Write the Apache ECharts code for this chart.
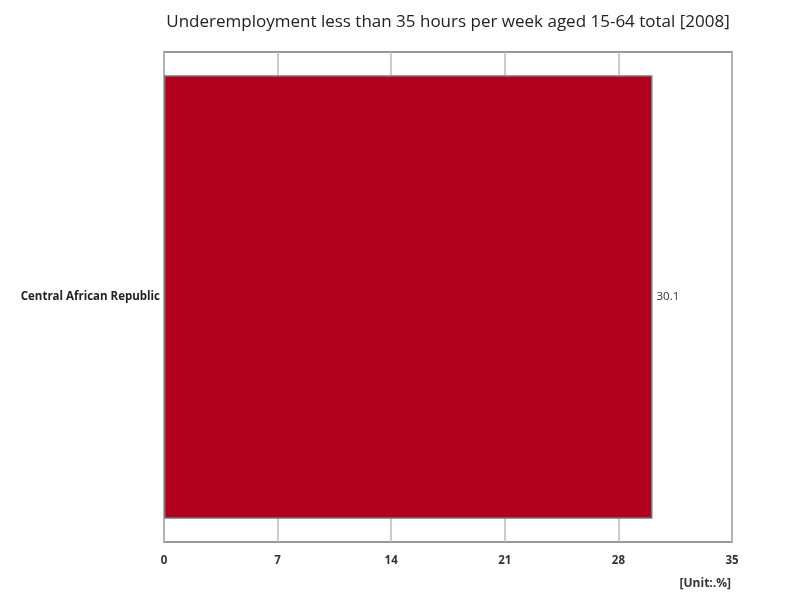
<!DOCTYPE html>
<html><head><meta charset="utf-8">
<script src="https://cdn.jsdelivr.net/npm/echarts@6/dist/echarts.min.js"></script>
<style>html,body{margin:0;padding:0;background:#fff}#c{width:800px;height:600px}</style>
</head><body><div id="c"></div>
<script>
const categories = ["Central African Republic"];
const values = [30.1];
const xTicks = [0, 7, 14, 21, 28, 35];
const titleText = "Underemployment less than 35 hours per week aged 15-64 total [2008]";
const unitText = "[Unit:.%]";

const chart = echarts.init(document.getElementById('c'));
chart.setOption({
  animation: false,
  graphic: [
    {type: 'text', x: 448, y: 14,
      style: {text: titleText, fontFamily: 'Open Sans', fontWeight: 'normal', fontSize: 17, fill: '#222', textAlign: 'center'}},
    {type: 'text', x: 731, y: 578,
      style: {text: unitText, fontFamily: 'Open Sans', fontWeight: 'bold', fontSize: 12, fill: '#333', textAlign: 'right'}}],
  grid: {left: 164, right: 68, top: 52, bottom: 58, show: true, borderColor: '#777', borderWidth: 1.5, containLabel: false},
  xAxis: {type: 'value', min: xTicks[0], max: xTicks[xTicks.length-1], interval: 7,
    axisLine: {show: false}, axisTick: {show: false},
    splitLine: {show: true, lineStyle: {color: '#bbb', width: 1.5}},
    axisLabel: {margin: 13, fontFamily: 'Open Sans', fontWeight: 'bold', fontSize: 11.5, color: '#333'}},
  yAxis: {type: 'category', data: categories, inverse: true,
    axisLine: {show: false}, axisTick: {show: false},
    axisLabel: {margin: 4, fontFamily: 'Open Sans', fontWeight: 'bold', fontSize: 11.5, color: '#222'}},
  series: [{type: 'bar', data: values, barCategoryGap: '9.5%',
    itemStyle: {color: '#b0001e', borderColor: '#777', borderWidth: 1.5},
    label: {show: true, position: 'right', fontFamily: 'Open Sans', fontSize: 11.5, color: '#333', distance: 4}}]
});
</script></body></html>
